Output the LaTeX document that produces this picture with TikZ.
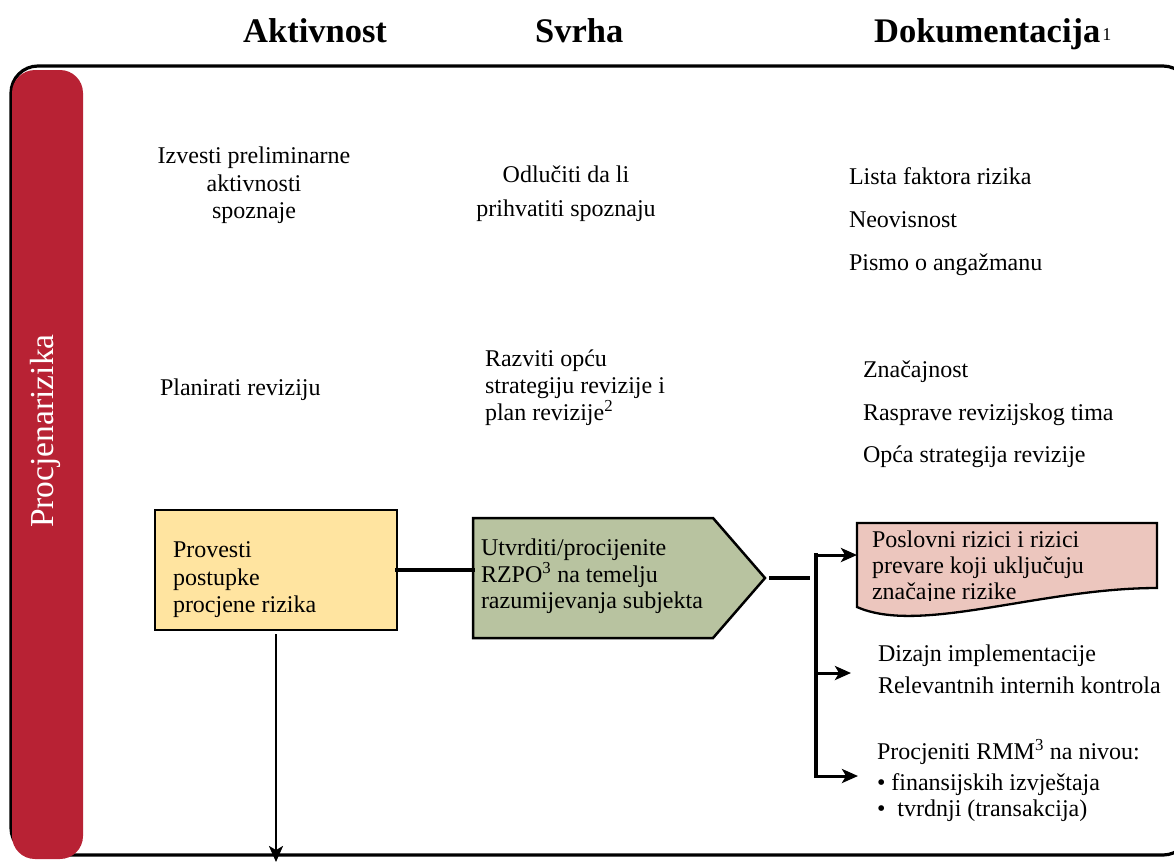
\documentclass[tikz,border=0pt]{standalone}
\usepackage{fontspec}
\setmainfont{Liberation Serif}
\usetikzlibrary{arrows.meta,calc}

\definecolor{barred}{RGB}{184,34,52}
\definecolor{boxyellow}{RGB}{255,228,160}
\definecolor{boxgreen}{RGB}{184,195,160}
\definecolor{boxpink}{RGB}{236,198,190}

\tikzset{
  body/.style={font=\fontsize{24}{27.5}\selectfont, inner sep=0pt, outer sep=0pt},
  head/.style={font=\fontsize{34.5}{40}\selectfont\bfseries, inner sep=0pt, anchor=base west},
  frame/.style={line width=3.2pt, rounded corners=27pt},
  sidebar/.style={fill=barred, rounded corners=23pt, inner sep=0pt, outer sep=0pt,
    minimum width=71pt, minimum height=789pt},
  sidelabel/.style={font=\fontsize{33.5}{38}\selectfont, text=white, inner sep=0pt,
    rotate=90, anchor=base west},
  ybox/.style={draw, line width=2.5pt, fill=boxyellow, inner sep=0pt, outer sep=0pt,
    minimum width=242pt, minimum height=120pt},
  gbox/.style={draw, line width=2.5pt, fill=boxgreen},
  pbox/.style={draw, line width=2.3pt, fill=boxpink},
  holder/.style={inner sep=0pt, outer sep=0pt},
  conn/.style={line width=3.2pt, line cap=rect},
  arr/.style={line width=3pt, line cap=rect, -{Stealth[length=16pt,width=14pt,inset=4pt]}},
}

\begin{document}
\begin{tikzpicture}[x=1pt,y=-1pt]
\useasboundingbox (0,0) rectangle (1174,863);
\clip (0,0) rectangle (1174,863);

% column headings
\node[head] (hAkt) at (243,42) {Aktivnost};
\node[head] (hSvr) at (535,42) {Svrha};
\node[head] (hDok) at (874,42) {Dokumentacija\kern2pt\raisebox{2pt}{\fontsize{18}{20}\selectfont\mdseries 1}};

% outer frame and the side bar
\draw[frame] (11,66) rectangle (1190,855);
\node[sidebar] (bar) at (47.5,464.5) {};
\node[sidelabel] (barlbl) at (53,528) {Procjenarizika};

% first row
\node[body, anchor=north, align=center] (izv) at (254,147)
  {Izvesti preliminarne\\aktivnosti\\spoznaje};
\node[body, anchor=north, align=center] (odl) at (566,166)
  {Odlučiti da li\\[6pt]prihvatiti spoznaju};
\node[body, anchor=north west, align=left, font=\fontsize{24}{43}\selectfont] (doc1) at (849,168)
  {Lista faktora rizika\\Neovisnost\\Pismo o angažmanu};

% second row
\node[body, anchor=north west] (plan) at (160,379) {Planirati reviziju};
\node[body, anchor=north west, align=left, font=\fontsize{24}{27}\selectfont] (razv) at (485,350)
  {Razviti opću\\strategiju revizije i\\plan revizije\textsuperscript{2}};
\node[body, anchor=north west, align=left, font=\fontsize{24}{42.5}\selectfont] (doc2) at (863,361)
  {Značajnost\\Rasprave revizijskog tima\\Opća strategija revizije};

% third row: activity box
\node[ybox] (prov) at (276,570) {};
\node[body, anchor=north west, align=left] (provt) at (173,542)
  {Provesti\\postupke\\procjene rizika};

% purpose box (pentagon)
\node[holder, minimum width=240pt, minimum height=120pt] (utv) at (593,578) {};
\coordinate (utvtip) at ($(utv.east)+(52,0)$);
\draw[gbox] (utv.north west) -- (utv.north east) -- (utvtip) -- (utv.south east)
  -- (utv.south west) -- cycle;
\node[body, anchor=north west, align=left, font=\fontsize{24}{26.5}\selectfont] (utvt) at (481,539)
  {Utvrditi/procijenite\\RZPO\textsuperscript{3} na temelju\\razumijevanja subjekta};

% document shape
\node[holder, anchor=north west, minimum width=300pt, minimum height=65pt] (posl) at (857,523) {};
\draw[pbox] (posl.south east) -- (posl.north east) -- (posl.north west)
  -- ($(posl.south west)+(0,19)$)
  .. controls ($(posl.south west)+(63,47)$) and ($(posl.south east)+(-117,0)$) .. (posl.south east)
  -- cycle;
\begin{scope}
  \clip (850,520) rectangle (1160,600.5);
  \node[body, anchor=north west, align=left, font=\fontsize{24}{26}\selectfont] (poslt) at (872,531)
    {Poslovni rizici i rizici\\prevare koji uključuju\\značajne rizike};
\end{scope}

% further documentation
\node[body, anchor=north west, align=left, font=\fontsize{24}{32}\selectfont] (diz) at (878,645)
  {Dizajn implementacije\\Relevantnih internih kontrola};
\node[body, anchor=north west, align=left, font=\fontsize{24}{26}\selectfont] (proc) at (877,739)
  {Procjeniti RMM\textsuperscript{3} na nivou:\\[5pt]• finansijskih izvještaja\\•\ \ tvrdnji (transakcija)};

% connectors
\draw[conn] (prov.east) -- (prov.east -| utv.west);
\coordinate (s1) at ($(utvtip)+(6,0)$);
\coordinate (s2) at (808,578);
\draw[conn] (s1) -- (s2);

\coordinate (b1) at (816,555);
\coordinate (b2) at (816,673);
\coordinate (b3) at (816,776);
\draw[conn] (b1) -- (b3);
\draw[arr] (b1) -- (b1 -| posl.west);
\draw[arr] (b2) -- ($(diz.west |- b2)+(-27,0)$);
\draw[arr] (b3) -- ($(proc.west |- b3)+(-19,0)$);

\coordinate (downend) at (0,862);
\draw[arr, line width=2.4pt] ([yshift=-5pt]prov.south) -- (prov.south |- downend);
\end{tikzpicture}
\end{document}
